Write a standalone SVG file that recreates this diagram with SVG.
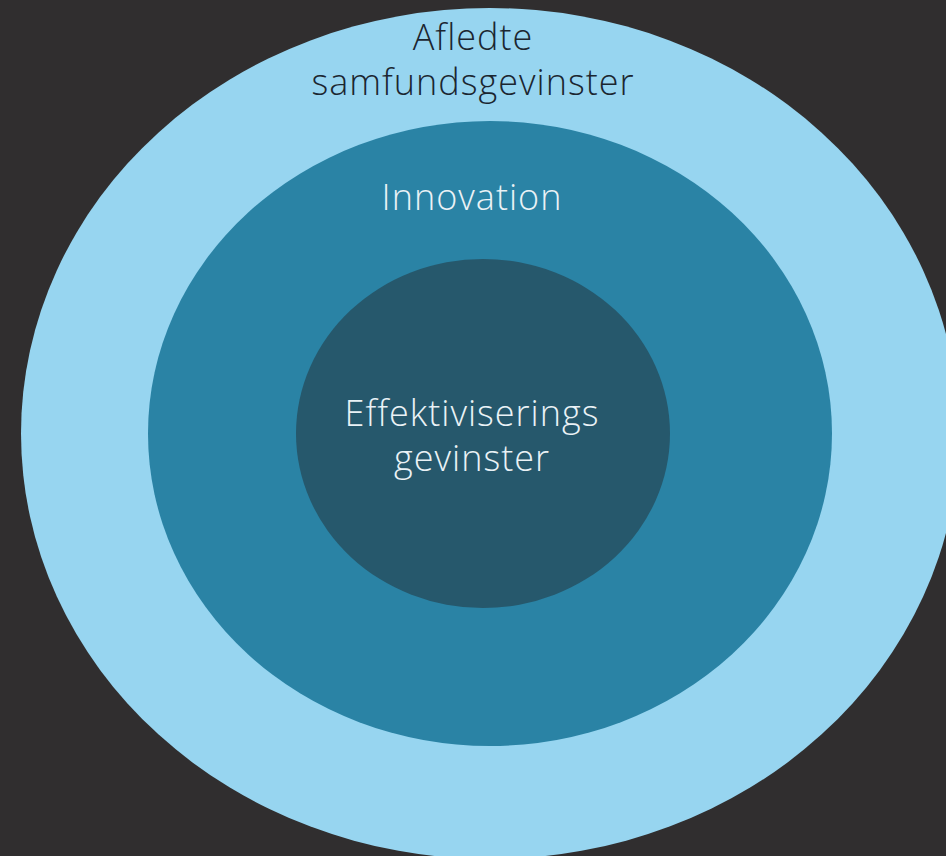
<svg xmlns="http://www.w3.org/2000/svg" width="946" height="856" viewBox="0 0 946 856">
  <style>
    .lbl { font-family: "Open Sans", "Liberation Sans", sans-serif; font-weight: 300; font-size: 36px; letter-spacing: 1px; text-anchor: middle; }
    .dark { fill: #1b2630; }
    .light { fill: #eaf2f6; }
  </style>
  <rect width="946" height="856" fill="#302e2f"/>
  <g id="ring-outer">
    <ellipse cx="490" cy="433.5" rx="469" ry="425.5" fill="#97d5f0"/>
    <text class="lbl dark" x="473" y="50">Afledte</text>
    <text class="lbl dark" x="473" y="95">samfundsgevinster</text>
  </g>
  <g id="ring-middle">
    <ellipse cx="490" cy="433.5" rx="342" ry="312.5" fill="#2a83a5"/>
    <text class="lbl light" x="472" y="210">Innovation</text>
  </g>
  <g id="ring-inner">
    <ellipse cx="483" cy="433.5" rx="187" ry="174.5" fill="#26586c"/>
    <text class="lbl light" x="472" y="426">Effektiviserings</text>
    <text class="lbl light" x="472" y="471">gevinster</text>
  </g>
  <g id="connectors"/>
</svg>
